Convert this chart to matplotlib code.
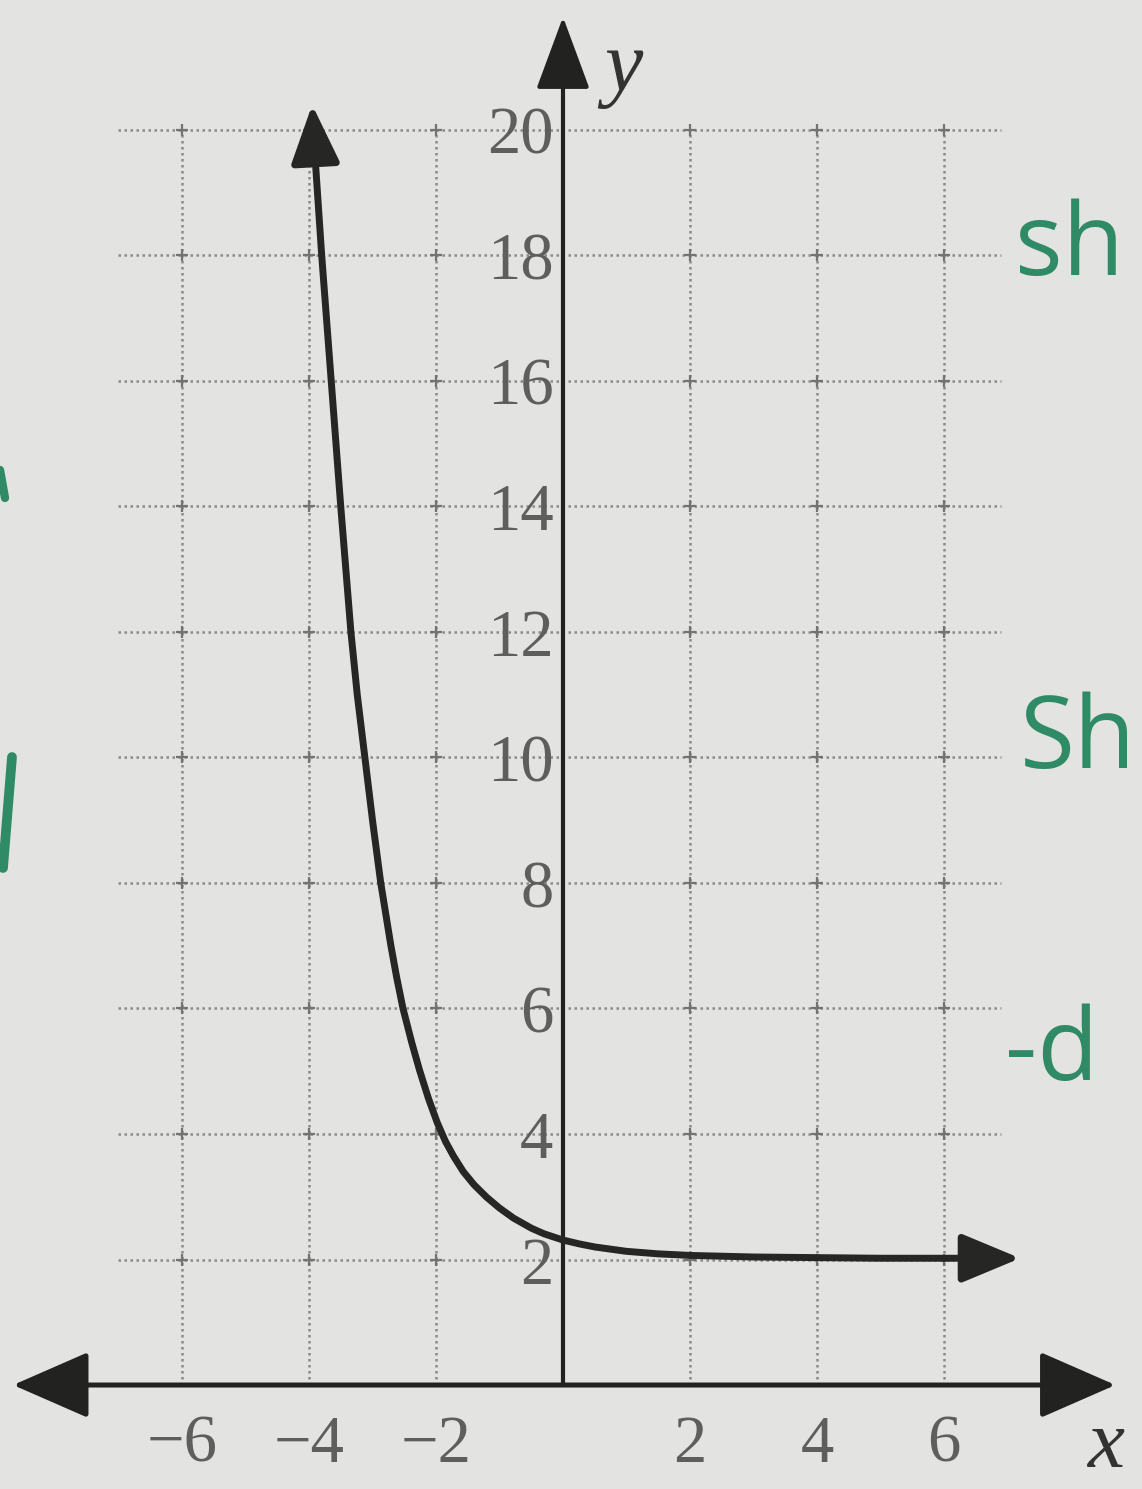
import numpy as np
import matplotlib
matplotlib.use("Agg")
import matplotlib.pyplot as plt
from matplotlib.lines import Line2D

# ---------------- data ----------------
grid_x = [-6, -4, -2, 2, 4, 6]
grid_y = [2, 4, 6, 8, 10, 12, 14, 16, 18, 20]
x_ticks = [-6, -4, -2, 2, 4, 6]
x_tick_labels = ["\u22126", "\u22124", "\u22122", "2", "4", "6"]
y_ticks = [2, 4, 6, 8, 10, 12, 14, 16, 18, 20]
y_tick_labels = ["2", "4", "6", "8", "10", "12", "14", "16", "18", "20"]

# curve (first and last points are the arrow tips)
curve_x = [-3.95, -3.90, -3.80, -3.65, -3.50, -3.34, -3.24, -3.12, -3.00, -2.87,
           -2.71, -2.62, -2.52, -2.38, -2.26, -2.12, -1.98, -1.85, -1.72, -1.57,
           -1.40, -1.20, -1.00, -0.78, -0.50, -0.30, 0.00, 0.25, 0.50, 1.00,
           1.50, 2.00, 3.00, 4.00, 5.00, 6.00, 7.20]
curve_y = [20.40, 19.50, 18.00, 16.00, 14.00, 12.00, 11.00, 10.00, 9.00, 8.00,
           7.00, 6.50, 6.00, 5.45, 5.02, 4.57, 4.18, 3.88, 3.64, 3.40,
           3.19, 2.99, 2.82, 2.66, 2.50, 2.41, 2.31, 2.25, 2.20, 2.13,
           2.09, 2.065, 2.04, 2.03, 2.02, 2.02, 2.02]

x_axis_ends = (-8.66, 8.70)
y_axis_top = 21.8
grid_h_span = (-7.0, 6.9)
grid_v_span = (0, 20)

green_notes = ["sh", "Sh", "-d"]

# ---------------- styling ----------------
BG = "#e3e3e1"
INK = "#222220"
GRID = "#8a8a88"
LABEL = "#5e5e5c"
GREEN = "#2f8a66"

W, H = 1142, 1489
fig = plt.figure(figsize=(W / 100, H / 100), dpi=100)
fig.patch.set_facecolor(BG)
ax = fig.add_axes([0, 0, 1, 1])
ax.set_facecolor(BG)
ax.set_xlim(-8.866, 9.118)
ax.set_ylim(-1.657, 22.07)
ax.axis("off")

# dotted grid
ax.hlines(grid_y, grid_h_span[0], grid_h_span[1], colors=GRID,
          linestyles=(0, (1.0, 1.4)), linewidth=1.8, zorder=1)
ax.vlines(grid_x, grid_v_span[0], grid_v_span[1], colors=GRID,
          linestyles=(0, (1.0, 1.4)), linewidth=1.8, zorder=1)
gx, gy = np.meshgrid(grid_x, grid_y)
ax.plot(gx.ravel(), gy.ravel(), linestyle="none", marker="+", ms=8,
        mew=1.6, color="#737371", zorder=1)

# axes with arrows
ax.annotate("", xy=(x_axis_ends[1], 0), xytext=(x_axis_ends[0], 0),
            arrowprops=dict(arrowstyle="<|-|>,head_length=2.4,head_width=1.05",
                            lw=3.6, color=INK, shrinkA=0, shrinkB=0,
                            mutation_scale=20), zorder=3)
ax.annotate("", xy=(0, y_axis_top), xytext=(0, 0),
            arrowprops=dict(arrowstyle="-|>,head_length=2.3,head_width=0.85",
                            lw=3.0, color=INK, shrinkA=0, shrinkB=0,
                            mutation_scale=20), zorder=3)

# tick labels
serif = ["Liberation Serif", "DejaVu Serif"]
for v, t in zip(y_ticks, y_tick_labels):
    ax.text(-0.15, v - 0.12, t, ha="right", va="center", fontsize=48,
            family=serif, color=LABEL, zorder=2)
for v, t in zip(x_ticks, x_tick_labels):
    ax.text(v, -0.96, t, ha="center", va="center", fontsize=48,
            family=serif, color=LABEL, zorder=2)

ax.text(0.95, 20.96, "y", ha="center", va="center", fontsize=62,
        family=serif, style="italic", color="#333331")
ax.text(8.54, -0.99, "x", ha="center", va="center", fontsize=60,
        family=serif, style="italic", color="#333331")

# the curve
ax.plot(curve_x[1:-1], curve_y[1:-1], color="#262624", lw=5.0,
        solid_joinstyle="round", solid_capstyle="round", zorder=4)
ax.annotate("", xy=(curve_x[0], curve_y[0]), xytext=(curve_x[1], curve_y[1]),
            arrowprops=dict(arrowstyle="-|>,head_length=1.8,head_width=0.75",
                            lw=5.0, color="#262624", shrinkA=0, shrinkB=0,
                            mutation_scale=20), zorder=4)
ax.annotate("", xy=(curve_x[-1], curve_y[-1]), xytext=(curve_x[-2], curve_y[-2]),
            arrowprops=dict(arrowstyle="-|>,head_length=1.8,head_width=0.75",
                            lw=5.0, color="#262624", shrinkA=0, shrinkB=0,
                            mutation_scale=20), zorder=4)

# green handwritten notes in the margin (partly cut off in the photo)
hand = ["Open Sans", "DejaVu Sans"]
ax.text(7.12, 17.69, green_notes[0], ha="left", va="baseline", fontsize=72,
        family=hand, color=GREEN)
ax.text(7.20, 9.83, green_notes[1], ha="left", va="baseline", fontsize=72,
        family=hand, color=GREEN)
ax.text(6.96, 4.86, green_notes[2], ha="left", va="baseline", fontsize=72,
        family=hand, color=GREEN)

# partial green pen strokes at the left edge of the photo
fig.add_artist(Line2D([12 / W, 3 / W], [1 - 757 / H, 1 - 868 / H],
                      color=GREEN, lw=7, solid_capstyle="round"))
fig.add_artist(Line2D([0 / W, 5 / W], [1 - 470 / H, 1 - 498 / H],
                      color=GREEN, lw=6, solid_capstyle="round"))

fig.savefig("out.png", dpi=100, facecolor=BG)
